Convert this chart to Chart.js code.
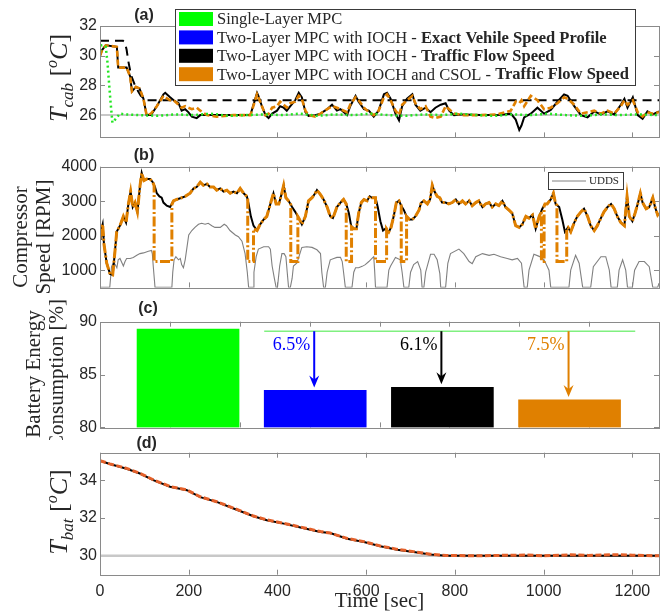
<!DOCTYPE html>
<html>
<head>
<meta charset="utf-8">
<script src="https://cdn.jsdelivr.net/npm/chart.js@4.4.1/dist/chart.umd.min.js"></script>
<style>
  body { margin: 0; background: #fff; }
  #wrap { position: relative; width: 667px; height: 616px; overflow: hidden; }
  #wrap canvas { position: absolute; left: 0; }
</style>
</head>
<body>
<div id="wrap">
  <canvas id="panelA" width="667" height="150" style="top:0px"></canvas>
  <canvas id="panelB" width="667" height="152" style="top:148px"></canvas>
  <canvas id="panelC" width="667" height="140" style="top:300px"></canvas>
  <canvas id="panelD" width="667" height="180" style="top:436px"></canvas>
</div>
<script>
// ---------- data ----------
const xTicks = [0, 200, 400, 600, 800, 1000, 1200];

const seriesNames = ['Single-Layer MPC', 'Two-Layer MPC with IOCH - ', 'Two-Layer MPC with IOCH - ', 'Two-Layer MPC with IOCH and CSOL - '];
const seriesBold = ['', 'Exact Vehile Speed Profile', 'Traffic Flow Speed', 'Traffic Flow Speed'];

// (a) cabin temperature
const cabTicks = [26, 28, 30, 32];
const cabSetpoint = 26;
const tLimit = [0, 52, 56, 60, 64, 70, 80, 92, 105, 1260];
const cabLimit = [31, 31, 30.9, 30.4, 29.6, 28.7, 27.9, 27.3, 27, 27];
const tGreen = [0, 3, 8, 13, 17, 20, 24, 28, 34, 45,
  56, 90, 130, 170, 210, 250, 290, 330, 370, 410,
  450, 490, 530, 570, 610, 650, 690, 730, 770, 810,
  850, 890, 930, 970, 1010, 1050, 1090, 1130, 1170, 1210, 1260];
const cabSingle = [30.3, 30.7, 30.7, 30.6, 29.5, 28.3, 26.8, 25.5, 25.7, 26.1,
  26.05, 26.0, 25.95, 26.05, 26.0, 26.1, 25.95, 26.0, 26.05, 26.0,
  26.1, 25.95, 26.05, 26.0, 26.1, 26.0, 25.95, 26.05, 26.0, 26.1,
  26.0, 25.95, 26.05, 26.0, 26.1, 26.0, 25.95, 26.05, 26.0, 26.05, 26.0];
const tCab = [0, 5, 13, 38, 41, 60, 68, 72, 81, 89,
  98, 105, 115, 128, 143, 147, 158, 166, 177, 184,
  192, 199, 207, 218, 226, 241, 263, 301, 316, 339,
  354, 357, 365, 373, 380, 388, 399, 406, 414, 421,
  429, 440, 448, 455, 463, 470, 485, 497, 512, 523,
  534, 542, 557, 564, 576, 583, 595, 606, 617, 628,
  640, 647, 655, 666, 674, 681, 692, 704, 711, 722,
  734, 745, 756, 768, 779, 787, 798, 820, 858, 896,
  926, 937, 945, 950, 956, 971, 986, 1001, 1016, 1031,
  1046, 1054, 1069, 1084, 1099, 1114, 1129, 1144, 1159, 1174,
  1182, 1189, 1201, 1212, 1223, 1234, 1246, 1260];
const cabTFS = [30.0, 30.4, 30.7, 30.6, 29.2, 29.2, 28.6, 27.6, 27.9, 27.8,
  27.1, 26.0, 26.0, 26.6, 27.4, 27.5, 27.2, 27.0, 26.8, 26.3,
  26.4, 26.2, 25.9, 25.8, 26.0, 26.0, 26.0, 26.0, 26.0, 26.0,
  27.5, 27.3, 26.6, 26.0, 25.8, 26.1, 26.3, 26.6, 26.5, 26.3,
  26.6, 27.0, 27.5, 27.2, 26.2, 25.95, 26.0, 26.1, 26.4, 26.7,
  26.3, 26.4, 26.0, 26.6, 27.3, 26.9, 26.4, 26.3, 25.9, 26.3,
  27.4, 27.5, 27.1, 26.1, 25.65, 26.6, 27.1, 27.4, 26.7, 26.3,
  26.5, 26.2, 26.5, 26.7, 26.8, 26.3, 26.0, 26.05, 26.0, 26.0,
  26.1, 25.7, 25.0, 25.3, 25.85, 26.1, 26.5, 26.1, 26.35, 26.9,
  27.4, 27.3, 26.6, 26.0, 25.85, 26.25, 26.05, 26.25, 26.05, 26.7,
  27.1, 26.5, 27.2, 26.0, 25.75, 26.25, 26.05, 26.25];
const cabCSOL = [30.0, 30.4, 30.7, 30.6, 29.2, 29.2, 28.6, 27.6, 27.9, 27.8,
  27.1, 26.0, 26.1, 26.6, 27.3, 27.2, 27.0, 27.0, 26.7, 26.5,
  26.6, 26.5, 26.4, 26.5, 26.3, 26.0, 25.9, 26.0, 26.0, 26.0,
  27.4, 27.2, 26.6, 26.0, 26.1, 26.5, 26.6, 26.9, 26.7, 26.5,
  26.8, 26.9, 27.3, 27.1, 26.3, 26.0, 25.9, 26.1, 26.4, 26.6,
  26.5, 26.4, 26.2, 26.7, 27.2, 27.0, 26.5, 26.2, 26.0, 26.3,
  27.2, 27.4, 27.0, 26.3, 26.0, 26.7, 27.0, 27.3, 26.8, 26.4,
  26.6, 25.9, 25.8, 25.9, 26.6, 26.4, 26.1, 26.0, 26.0, 26.05,
  26.3, 26.9, 26.8, 27.0, 26.6, 27.3, 27.0, 26.4, 26.5, 26.8,
  27.2, 27.1, 26.7, 26.1, 26.2, 26.3, 26.1, 26.3, 26.1, 26.6,
  27.0, 26.7, 27.0, 26.2, 25.9, 26.2, 26.1, 26.2];

// (b) compressor speed
const compTicks = [1000, 2000, 3000, 4000];
const tComp = [0, 1.5, 6, 9, 15, 22.6, 28.6, 33.9, 37.6, 45,
  52.7, 58.7, 64, 69, 73.8, 79, 84.3, 90.3, 94, 99,
  105, 113, 119, 124, 128, 134, 139, 143, 150.5, 158,
  165.6, 173, 184, 192, 203, 211, 218, 226, 233, 241,
  248, 256, 263, 271, 278.5, 286, 293.5, 301, 308.6, 316,
  323.6, 331, 335, 340, 346, 354, 361, 369, 376, 384,
  391, 397, 403, 409, 414, 419, 425, 433, 440, 448,
  455, 463, 470, 478, 485, 489, 497, 504, 512, 519,
  525, 534, 542, 549, 555, 561, 566, 572, 578, 583,
  589, 595, 602, 608, 613, 621, 626, 632, 638, 643,
  651, 656, 662, 668, 674, 679, 685, 691, 698, 704,
  711, 719, 724, 730, 738, 744, 749, 754, 760, 766,
  771, 779, 786, 794, 802, 809, 817, 824, 832, 839,
  847, 854, 862, 869, 877, 884, 892, 899, 907, 914,
  922, 929, 937, 945, 952, 960, 967, 975, 982, 990,
  997, 1003, 1008, 1016, 1022, 1027, 1035, 1042, 1048, 1055,
  1061, 1069, 1076, 1084, 1091, 1099, 1106, 1114, 1121, 1129,
  1136, 1144, 1152, 1159, 1166, 1174, 1182, 1188, 1193, 1200,
  1206, 1212, 1218, 1223, 1231, 1238, 1246, 1251, 1257, 1260];
const compTFS = [1900, 2110, 2330, 1750, 1210, 890, 865, 1570, 2110, 2290,
  2560, 2380, 2920, 3280, 2830, 2960, 2690, 3460, 3820, 3600,
  3640, 3640, 3550, 3410, 3230, 3140, 3100, 2960, 2870, 2830,
  3010, 3050, 3100, 3140, 3230, 3370, 3410, 3550, 3460, 3500,
  3410, 3410, 3320, 3370, 3280, 3320, 3230, 3280, 3230, 3370,
  3230, 3140, 2920, 2560, 2290, 2150, 2330, 2470, 2560, 2920,
  3230, 2920, 2920, 3190, 3460, 3100, 3010, 2830, 2690, 2510,
  2330, 2560, 3010, 3100, 3230, 3320, 3190, 3050, 2830, 2560,
  2510, 2830, 2960, 3050, 2920, 2650, 2290, 2200, 2200, 2650,
  2960, 3050, 3010, 3140, 3100, 3100, 2830, 2420, 2150, 2200,
  2110, 2240, 2560, 2960, 3010, 2870, 2740, 2560, 2470, 2470,
  2560, 2740, 2960, 3010, 2920, 3050, 3460, 3280, 3140, 3100,
  2960, 2960, 2920, 2960, 3050, 2920, 3010, 2920, 3010, 2870,
  2960, 3010, 2830, 2920, 2960, 2830, 2920, 2870, 3010, 2830,
  2740, 2650, 2290, 2240, 2330, 2560, 2510, 2600, 2200, 2560,
  2780, 2920, 2920, 3050, 3230, 2920, 2830, 2470, 2110, 2240,
  2110, 2380, 2560, 2690, 2780, 2560, 2290, 2150, 2290, 2510,
  2690, 2830, 2920, 2780, 2560, 2380, 2290, 3140, 2560, 2420,
  2650, 2920, 3230, 2960, 2780, 2830, 3100, 2830, 2600, 2650];
const tCompCSOL = [0, 1.5, 6, 9, 15, 22.6, 28.6, 33.9, 37.6, 45,
  52.7, 58.7, 64, 69, 73.8, 79, 84.3, 90.3, 94, 99,
  105, 113, 119, 122, 122, 162, 162,
  165.6, 173, 184, 192, 203, 211, 218, 226, 233, 241,
  248, 256, 263, 271, 278.5, 286, 293.5, 301, 308.6, 316,
  323.6, 331, 333, 333, 346, 346,
  354, 361, 369, 376, 384, 391, 397, 403, 409, 414, 419, 425, 430, 430, 446, 446,
  448, 455, 463, 470, 478, 485, 489, 497, 504, 512, 519,
  525, 534, 542, 549, 555, 555, 567, 567,
  572, 578, 583, 589, 595, 602, 608, 613, 621, 621, 646, 646,
  651, 656, 662, 668, 674, 679, 679, 691, 691,
  698, 704, 711, 719, 724, 730, 738, 744, 749, 754, 760, 766,
  771, 779, 786, 794, 802, 809, 817, 824, 832, 839,
  847, 854, 862, 869, 877, 884, 892, 899, 907, 914,
  922, 929, 937, 945, 952, 960, 967, 975, 982, 990,
  995, 995, 1001, 1001,
  1003, 1008, 1016, 1022, 1027, 1030, 1030, 1052, 1052,
  1055, 1061, 1069, 1076, 1084, 1091, 1099, 1106, 1114, 1121, 1129,
  1136, 1144, 1152, 1159, 1166, 1174, 1182, 1188, 1193, 1200,
  1206, 1212, 1218, 1223, 1231, 1238, 1246, 1251, 1257, 1260];
const compCSOL = [1900, 2110, 2330, 1750, 1210, 890, 865, 1570, 2110, 2290,
  2560, 2380, 2920, 3280, 2830, 2960, 2690, 3460, 3820, 3600,
  3640, 3640, 3550, 3450, 1250, 1250, 2900,
  3010, 3050, 3100, 3140, 3230, 3370, 3410, 3550, 3460, 3500,
  3410, 3410, 3320, 3370, 3280, 3320, 3230, 3280, 3230, 3370,
  3230, 3140, 3050, 1250, 1250, 2200,
  2150, 2330, 2470, 2560, 2920, 3230, 2920, 2920, 3190, 3460, 3100, 3010, 2900, 1250, 1250, 2550,
  2510, 2330, 2560, 3010, 3100, 3230, 3320, 3190, 3050, 2830, 2560,
  2510, 2830, 2960, 3050, 2920, 1250, 1250, 2250,
  2200, 2200, 2650, 2960, 3050, 3010, 3140, 3100, 3100, 1250, 1250, 2200,
  2110, 2240, 2560, 2960, 3010, 2870, 1250, 1250, 2560,
  2470, 2470, 2560, 2740, 2960, 3010, 2920, 3050, 3460, 3280, 3140, 3100,
  2960, 2960, 2920, 2960, 3050, 2920, 3010, 2920, 3010, 2870,
  2960, 3010, 2830, 2920, 2960, 2830, 2920, 2870, 3010, 2830,
  2740, 2650, 2290, 2240, 2330, 2560, 2510, 2600, 2200, 2560,
  2700, 1250, 1250, 2850,
  2920, 2920, 3050, 3230, 2920, 2880, 1250, 1250, 2200,
  2240, 2110, 2380, 2560, 2690, 2780, 2560, 2290, 2150, 2290, 2510,
  2690, 2830, 2920, 2780, 2560, 2380, 2290, 3140, 2560, 2420,
  2650, 2920, 3230, 2960, 2780, 2830, 3100, 2830, 2600, 2650];
// UDDS speed trace drawn on the RPM axis
const tUdds = [0, 22, 26, 30, 34, 38, 41, 45, 52.7, 56.4,
  60, 68, 75, 83, 90, 98, 109, 116, 118, 120,
  124, 162, 164, 167, 171, 177, 181, 184, 188, 192,
  196, 200, 207, 214, 222, 229, 237, 244, 252, 259,
  271, 280, 285, 293, 305, 312, 320, 327, 332, 335,
  346, 347, 352, 357, 369, 380, 384, 388, 393, 397,
  400, 405, 410, 415, 419, 422, 425, 429, 433, 436,
  444, 455, 466, 478, 489, 497, 500, 504, 508, 512,
  519, 527, 534, 542, 546, 549, 553, 568, 572, 576,
  583, 591, 598, 606, 613, 617, 619, 621, 647, 651,
  655, 666, 677, 681, 685, 696, 700, 707, 716, 723,
  726, 730, 734, 745, 753, 760, 766, 768, 779, 784,
  790, 809, 820, 832, 839, 847, 862, 877, 888, 903,
  918, 929, 941, 950, 956, 963, 967, 978, 990, 1001,
  1012, 1016, 1057, 1061, 1072, 1080, 1088, 1106, 1112, 1129,
  1140, 1148, 1152, 1166, 1170, 1178, 1185, 1189, 1200, 1205,
  1215, 1227, 1238, 1246, 1257, 1260];
const udds = [500, 500, 1100, 1210, 1170, 1070, 1300, 1340, 1120, 1250,
  1340, 1340, 1370, 1430, 1480, 1500, 1550, 1570, 1470, 1120,
  500, 500, 940, 1300, 1390, 1300, 1340, 1160, 1070, 1300,
  1660, 2020, 2150, 2240, 2330, 2360, 2330, 2360, 2290, 2240,
  2240, 2330, 2290, 2150, 2020, 1970, 1840, 1480, 940, 500,
  500, 940, 1390, 1610, 1680, 1680, 1610, 1120, 760, 500,
  500, 1120, 1480, 1480, 1390, 940, 500, 500, 760, 1120,
  1210, 1660, 1680, 1660, 1590, 1480, 940, 500, 500, 940,
  1300, 1340, 1370, 1370, 1250, 940, 500, 500, 940, 1070,
  1070, 1110, 1160, 1250, 1340, 1390, 1000, 500, 500, 1000,
  1120, 1370, 1300, 940, 500, 500, 940, 1160, 1250, 1000,
  500, 500, 940, 1460, 1460, 1300, 900, 500, 500, 1200,
  1480, 1610, 1480, 1250, 1190, 1390, 1480, 1430, 1460, 1390,
  1340, 1300, 1340, 1200, 500, 500, 1000, 1460, 1400, 1300,
  1000, 500, 500, 1000, 1430, 1200, 500, 500, 1100, 1390,
  1390, 1000, 500, 500, 1000, 1300, 1000, 500, 500, 1000,
  1250, 1250, 1100, 500, 500, 620];

// (c) battery energy consumption
const energyTicks = [80, 85, 90];
const energyUse = [89.3, 83.5, 83.8, 82.6];
const savings = ['', '6.5%', '6.1%', '7.5%'];
const energyRef = 89.1;

// (d) battery temperature
const batTicks = [30, 32, 34];
const batTarget = 30;
const tBat = [0, 22, 60, 90, 120, 158, 196, 226, 263, 301,
  346, 376, 414, 452, 497, 519, 557, 595, 632, 670,
  707, 745, 780, 850, 900, 960, 1000, 1060, 1100, 1170, 1200, 1260];
const batTFS = [35.03, 34.85, 34.6, 34.35, 34.0, 33.65, 33.47, 33.1, 32.85, 32.5,
  32.09, 31.88, 31.7, 31.5, 31.26, 31.2, 30.9, 30.73, 30.5, 30.32,
  30.2, 30.07, 30.0, 30.0, 30.0, 30.0, 30.0, 30.0, 30.0, 30.0, 30.0, 30.0];
const batCSOL = [35.03, 34.86, 34.62, 34.36, 34.02, 33.66, 33.48, 33.12, 32.86, 32.52,
  32.1, 31.9, 31.72, 31.52, 31.28, 31.2, 30.92, 30.75, 30.52, 30.34,
  30.22, 30.08, 30.02, 30.0, 30.02, 30.04, 30.0, 30.05, 30.02, 30.06, 30.03, 30.0];

// ---------- styling / layout ----------
const SANS = '"Liberation Sans", Arial, sans-serif';
const SERIF = '"Liberation Serif", "Times New Roman", serif';
const INK = '#262626';
const FRAME = '#8a8a8a';
const colGreen = '#00ff00', colBlue = '#0000ff', colBlack = '#000000', colOrange = '#e08000';
const seriesColors = [colGreen, colBlue, colBlack, colOrange];
const barSlots = [1.26, 3.08, 4.9, 6.72];   // bar centres on panel (c) x grid
const barGrid = [1, 2, 3, 4, 5, 6, 7];
const refSpan = [2.35, 7.66];
const pctLevel = 87.75;

const pts = (xs, ys) => xs.map((x, i) => ({ x: x, y: ys[i] }));

function vText(ctx, parts, cx, cy) {
  ctx.save();
  ctx.translate(cx, cy);
  ctx.rotate(-Math.PI / 2);
  ctx.fillStyle = INK;
  ctx.textBaseline = 'alphabetic';
  ctx.textAlign = 'left';
  let w = 0;
  parts.forEach(p => { ctx.font = p.f; p.w = ctx.measureText(p.t).width; w += p.w; });
  let x = -w / 2;
  parts.forEach(p => { ctx.font = p.f; ctx.fillText(p.t, x, p.dy || 0); x += p.w; });
  ctx.restore();
}

function tempLabel(sub) {
  return [
    { t: 'T', f: 'italic 26px ' + SERIF },
    { t: sub, f: 'italic 17px ' + SERIF, dy: 6 },
    { t: ' [', f: '26px ' + SERIF },
    { t: 'o', f: 'italic 16px ' + SERIF, dy: -10 },
    { t: 'C', f: 'italic 26px ' + SERIF },
    { t: ']', f: '26px ' + SERIF }
  ];
}

// frame, inward ticks, panel tag, y title
function makeDeco(cfg) {
  return {
    id: 'deco',
    beforeDatasetsDraw(chart) {
      const { ctx, chartArea: a, scales } = chart;
      ctx.save();
      ctx.strokeStyle = FRAME;
      ctx.lineWidth = 1;
      ctx.beginPath();
      cfg.xt.forEach(v => {
        const x = Math.round(scales.x.getPixelForValue(v)) + 0.5;
        ctx.moveTo(x, a.bottom); ctx.lineTo(x, a.bottom - 5);
        ctx.moveTo(x, a.top); ctx.lineTo(x, a.top + 5);
      });
      cfg.yt.forEach(v => {
        const y = Math.round(scales.y.getPixelForValue(v)) + 0.5;
        ctx.moveTo(a.left, y); ctx.lineTo(a.left + 5, y);
        ctx.moveTo(a.right, y); ctx.lineTo(a.right - 5, y);
      });
      ctx.stroke();
      ctx.restore();
    },
    afterDatasetsDraw(chart) {
      const { ctx, chartArea: a } = chart;
      ctx.save();
      ctx.strokeStyle = FRAME;
      ctx.lineWidth = 1;
      ctx.strokeRect(Math.round(a.left) + 0.5, Math.round(a.top) + 0.5,
        Math.round(a.right - a.left), Math.round(a.bottom - a.top));
      ctx.restore();
      if (cfg.overlay) cfg.overlay(chart);
    },
    afterDraw(chart) {
      const ctx = chart.ctx;
      ctx.save();
      ctx.fillStyle = INK;
      ctx.font = 'bold 16px ' + SANS;
      ctx.textAlign = 'center';
      ctx.textBaseline = 'middle';
      ctx.fillText(cfg.tag, cfg.tagX, cfg.tagY - cfg.top);
      ctx.restore();
      cfg.title(ctx, cfg.top);
      if (cfg.extra) cfg.extra(ctx, cfg.top);
    }
  };
}

function yScale(min, max, ticks) {
  return {
    type: 'linear', min: min, max: max,
    grid: { display: false, drawTicks: false },
    border: { display: false },
    ticks: { font: { family: SANS, size: 16 }, color: INK, padding: 3, callback: v => String(v) },
    afterBuildTicks: s => { s.ticks = ticks.map(v => ({ value: v })); },
    afterFit: s => { s.width = 100; }
  };
}

function baseOptions(padTop, padBottom, y, x) {
  return {
    responsive: false,
    animation: false,
    events: [],
    layout: { padding: { left: 0, right: 8, top: padTop, bottom: padBottom } },
    plugins: { legend: { display: false }, tooltip: { enabled: false } },
    elements: { point: { radius: 0 }, line: { tension: 0 } },
    scales: { x: x || { type: 'linear', min: 0, max: 1260, display: false }, y: y }
  };
}

// ---------- (a) ----------
function drawCabLegend(ctx) {
  const left = 175.5, top = 9.5, w = 460, h = 76, rowH = 18.4;
  ctx.save();
  ctx.fillStyle = '#fff';
  ctx.fillRect(left, top, w, h);
  ctx.strokeStyle = '#3a3a3a';
  ctx.lineWidth = 1;
  ctx.strokeRect(left, top, w, h);
  ctx.font = '16px ' + SERIF;
  let wn = ctx.measureText(seriesNames[3]).width;
  ctx.font = 'bold 16px ' + SERIF;
  wn += ctx.measureText(seriesBold[3]).width;
  const fs = Math.min(17, 16 * 412 / wn);
  ctx.textBaseline = 'middle';
  ctx.textAlign = 'left';
  seriesNames.forEach((name, i) => {
    const cy = top + 9.5 + i * rowH;
    ctx.fillStyle = seriesColors[i];
    ctx.fillRect(179, cy - 7, 34, 14);
    ctx.fillStyle = INK;
    ctx.font = fs + 'px ' + SERIF;
    ctx.fillText(name, 217, cy + 1);
    const w1 = ctx.measureText(name).width;
    ctx.font = 'bold ' + fs + 'px ' + SERIF;
    ctx.fillText(seriesBold[i], 217 + w1, cy + 1);
  });
  ctx.restore();
}

new Chart(document.getElementById('panelA'), {
  type: 'line',
  data: {
    datasets: [
      { label: 'Single-Layer MPC', data: pts(tGreen, cabSingle), borderColor: '#22e622', borderWidth: 2.5, borderDash: [2, 3], order: 1 },
      { label: seriesNames[3] + seriesBold[3], data: pts(tCab, cabCSOL), borderColor: colOrange, borderWidth: 2.6, borderDash: [6, 3], order: 2 },
      { label: seriesNames[2] + seriesBold[2], data: pts(tCab, cabTFS), borderColor: colBlack, borderWidth: 2, order: 3 },
      { label: seriesNames[1] + seriesBold[1], data: [], borderColor: colBlue, borderWidth: 2, order: 4 },
      { label: 'Upper bound', data: pts(tLimit, cabLimit), borderColor: colBlack, borderWidth: 2, borderDash: [9, 6], order: 5 },
      { label: 'Setpoint', data: pts([0, 1260], [cabSetpoint, cabSetpoint]), borderColor: '#c8c8c8', borderWidth: 2, order: 6 }
    ]
  },
  options: baseOptions(26, 5.6, yScale(24.5, 32, cabTicks)),
  plugins: [makeDeco({
    xt: xTicks, yt: cabTicks, tag: '(a)', tagX: 144, tagY: 15.5, top: 0,
    title: (ctx, top) => vText(ctx, tempLabel('cab'), 67, 78 - top),
    extra: ctx => drawCabLegend(ctx)
  })]
});

// ---------- (b) ----------
new Chart(document.getElementById('panelB'), {
  type: 'line',
  data: {
    datasets: [
      { label: seriesNames[3] + seriesBold[3], data: pts(tCompCSOL, compCSOL), borderColor: colOrange, borderWidth: 3, borderDash: [10, 2.5, 2, 2.5], order: 1 },
      { label: seriesNames[2] + seriesBold[2], data: pts(tComp, compTFS), borderColor: colBlack, borderWidth: 2, order: 2 },
      { label: 'UDDS', data: pts(tUdds, udds), borderColor: '#808080', borderWidth: 1.1, order: 3 }
    ]
  },
  options: baseOptions(18.7, 3.8, yScale(500, 4000, compTicks)),
  plugins: [makeDeco({
    xt: xTicks, yt: compTicks, tag: '(b)', tagX: 144, tagY: 155.5, top: 148,
    title: (ctx, top) => {
      vText(ctx, [{ t: 'Compressor', f: '21px ' + SERIF }], 27, 237 - top);
      vText(ctx, [{ t: 'Speed [RPM]', f: '21px ' + SERIF }], 50, 237 - top);
    },
    extra: (ctx, top) => {
      ctx.save();
      ctx.fillStyle = '#fff';
      ctx.fillRect(548.5, 172.5 - top, 75, 17);
      ctx.strokeStyle = '#3a3a3a';
      ctx.lineWidth = 1;
      ctx.strokeRect(548.5, 172.5 - top, 75, 17);
      ctx.strokeStyle = '#808080';
      ctx.beginPath();
      ctx.moveTo(552, 181 - top); ctx.lineTo(586, 181 - top);
      ctx.stroke();
      ctx.fillStyle = INK;
      ctx.font = '11px ' + SERIF;
      ctx.textBaseline = 'middle';
      ctx.fillText('UDDS', 589, 181.5 - top);
      ctx.restore();
    }
  })]
});

// ---------- (c) ----------
new Chart(document.getElementById('panelC'), {
  type: 'bar',
  data: {
    datasets: [{
      label: 'Battery energy consumption',
      data: pts(barSlots, energyUse),
      backgroundColor: seriesColors,
      base: 80,
      barThickness: 102,
      borderWidth: 0
    }]
  },
  options: baseOptions(21.7, 11, yScale(80, 90, energyTicks),
    { type: 'linear', min: 0, max: 8, offset: false, grid: { offset: false }, display: false }),
  plugins: [makeDeco({
    xt: barGrid, yt: energyTicks, tag: '(c)', tagX: 148, tagY: 308.5, top: 300,
    title: (ctx, top) => {
      vText(ctx, [{ t: 'Battery Energy', f: '21px ' + SERIF }], 40, 374 - top);
      vText(ctx, [{ t: 'Consumption [%]', f: '21px ' + SERIF }], 63, 374 - top);
    },
    overlay: chart => {
      const { ctx, scales: { x, y } } = chart;
      ctx.save();
      ctx.strokeStyle = '#80f080';
      ctx.lineWidth = 1.5;
      const yr = y.getPixelForValue(energyRef);
      ctx.beginPath();
      ctx.moveTo(x.getPixelForValue(refSpan[0]), yr);
      ctx.lineTo(x.getPixelForValue(refSpan[1]), yr);
      ctx.stroke();
      for (let i = 1; i < energyUse.length; i++) {
        const px = x.getPixelForValue(barSlots[i]) - 1;
        const tip = y.getPixelForValue(energyUse[i]) - 3;
        ctx.strokeStyle = seriesColors[i];
        ctx.fillStyle = seriesColors[i];
        ctx.lineWidth = 2;
        ctx.beginPath();
        ctx.moveTo(px, yr);
        ctx.lineTo(px, tip - 6);
        ctx.stroke();
        ctx.beginPath();
        ctx.moveTo(px, tip);
        ctx.lineTo(px - 5, tip - 12);
        ctx.lineTo(px, tip - 8);
        ctx.lineTo(px + 5, tip - 12);
        ctx.closePath();
        ctx.fill();
        ctx.font = '18px ' + SERIF;
        ctx.textAlign = 'right';
        ctx.textBaseline = 'middle';
        ctx.fillText(savings[i], px - 4, y.getPixelForValue(pctLevel));
      }
      ctx.restore();
    }
  })]
});

// ---------- (d) ----------
new Chart(document.getElementById('panelD'), {
  type: 'line',
  data: {
    datasets: [
      { label: seriesNames[3] + seriesBold[3], data: pts(tBat, batCSOL), borderColor: '#e4602a', borderWidth: 3, borderDash: [6, 2.5], order: 1 },
      { label: seriesNames[2] + seriesBold[2], data: pts(tBat, batTFS), borderColor: colBlack, borderWidth: 2, order: 2 },
      { label: 'Target', data: pts([0, 1260], [batTarget, batTarget]), borderColor: '#c8c8c8', borderWidth: 2.5, order: 3 }
    ]
  },
  options: baseOptions(16.7, 0, yScale(29, 35.45, batTicks), {
    type: 'linear', min: 0, max: 1260,
    grid: { display: false, drawTicks: false },
    border: { display: false },
    ticks: { font: { family: SANS, size: 16 }, color: INK, padding: 7, maxRotation: 0, autoSkip: false, callback: v => String(v) },
    afterBuildTicks: s => { s.ticks = xTicks.map(v => ({ value: v })); },
    afterFit: s => { s.height = 41.3; },
    title: { display: true, text: 'Time [sec]', font: { family: SERIF, size: 21 }, color: INK, padding: { top: 0, bottom: 2 } }
  }),
  plugins: [makeDeco({
    xt: xTicks, yt: batTicks, tag: '(d)', tagX: 146.7, tagY: 443.5, top: 436,
    title: (ctx, top) => vText(ctx, tempLabel('bat'), 67, 512 - top)
  })]
});
</script>
</body>
</html>
